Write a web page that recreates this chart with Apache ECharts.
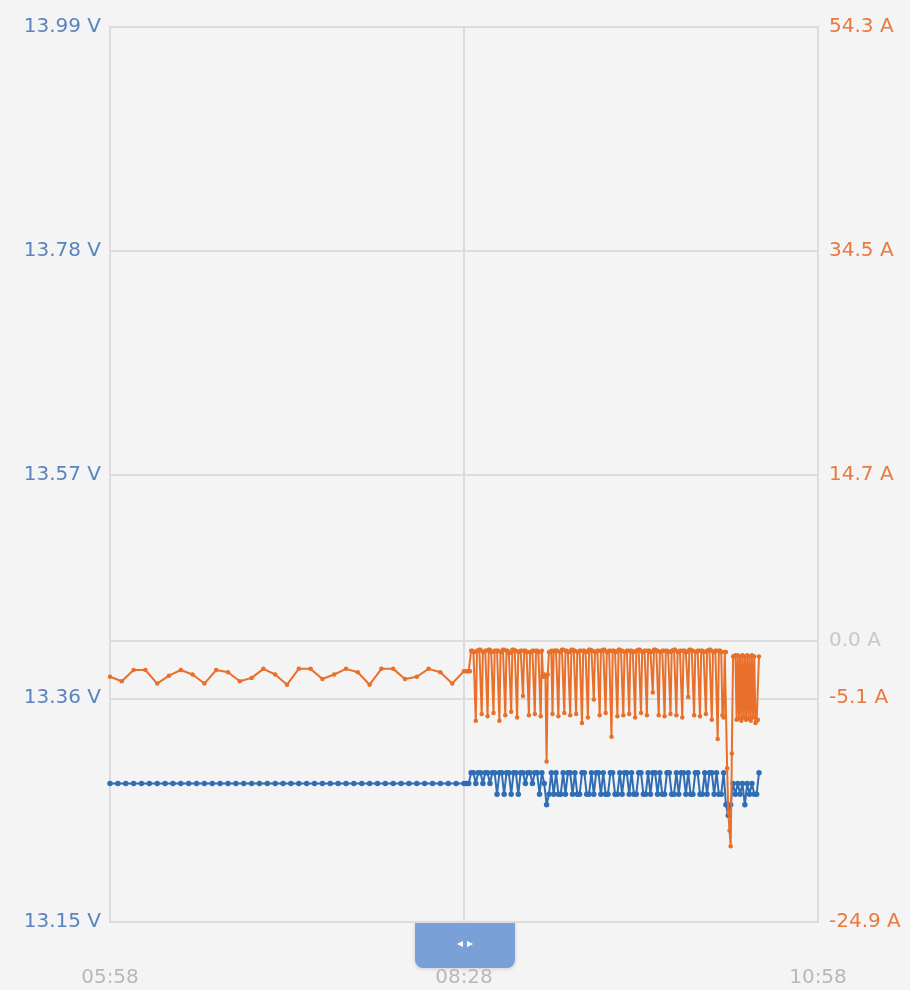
<!DOCTYPE html>
<html><head><meta charset="utf-8">
<script src="https://cdn.jsdelivr.net/npm/echarts@6/dist/echarts.min.js"></script>
<style>html,body{margin:0;padding:0;background:#f4f4f4;}#c{width:910px;height:990px;}</style>
</head><body><div id="c"></div>
<script>
// ---- data ----
const timeTicks = ['05:58', '08:28', '10:58'];
const voltageTicks = [13.15, 13.36, 13.57, 13.78, 13.99];
const currentTicks = [-24.9, -5.1, 0.0, 14.7, 34.5, 54.3];

// voltage, 05:58 .. 08:28 (every 200 s)
const voltagePreStart = '05:58';
const voltagePreStepMin = 10 / 3;
const voltagePre = [
  13.28,13.28,13.28,13.28,13.28,13.28,13.28,13.28,13.28,13.28,
  13.28,13.28,13.28,13.28,13.28,13.28,13.28,13.28,13.28,13.28,
  13.28,13.28,13.28,13.28,13.28,13.28,13.28,13.28,13.28,13.28,
  13.28,13.28,13.28,13.28,13.28,13.28,13.28,13.28,13.28,13.28,
  13.28,13.28,13.28,13.28,13.28,13.28
];
// voltage, 08:29 .. 10:33 (every minute)
const voltagePostStart = '08:29';
const voltagePostStepMin = 1;
const voltagePost = [
  13.28,13.28,
  13.29,13.29,13.28, 13.29,13.29,13.28, 13.29,13.29,13.28, 13.29,13.29,13.27,
  13.29,13.29,13.27, 13.29,13.29,13.27, 13.29,13.29,13.27, 13.29,13.29,13.28,
  13.29,13.29,13.28, 13.29,13.29,13.27, 13.29,13.28,13.26, 13.27,13.29,13.27,
  13.29,13.27,13.27,13.29,13.27,13.29,13.29,13.27,13.29,13.27,13.27,13.29,
  13.29,13.27,13.27,13.29,13.27,13.29,13.29,13.27,13.29,13.27,13.27,13.29,
  13.29,13.27,13.27,13.29,13.27,13.29,13.29,13.27,13.29,13.27,13.27,13.29,
  13.29,13.27,13.27,13.29,13.27,13.29,13.29,13.27,13.29,13.27,13.27,13.29,
  13.29,13.27,13.27,13.29,13.27,13.29,13.29,13.27,13.29,13.27,13.27,13.29,
  13.29,13.27,13.27,13.29,13.27,13.29,13.29,13.27,13.29,13.27,13.27,13.29,
  13.26,13.25,13.26,13.28,
  13.27,13.28,13.27,13.28,13.26,13.28,13.27,13.28,13.27,13.27,13.29
];
// current, 05:58 .. 08:28 (every 5 min)
const currentPreStart = '05:58';
const currentPreStepMin = 5;
const currentPre = [
  -3.2,-3.6,-2.6,-2.6,-3.8,-3.1,-2.6,-3.0,-3.8,-2.6,
  -2.8,-3.6,-3.3,-2.5,-3.0,-3.9,-2.5,-2.5,-3.4,-3.0,
  -2.5,-2.8,-3.9,-2.5,-2.5,-3.4,-3.2,-2.5,-2.8,-3.8,-2.7
];
// current, 08:29 .. 10:33 (every 30 s)
const currentPostStart = '08:29';
const currentPostStepMin = 0.5;
const currentPost = [
  -2.7,-2.7,-2.7,-2.7,
  -0.9,-0.9,-1.0,-1.0,-7.1,  -0.9,-0.9,-0.8,-0.8,-6.5,  -1.0,-1.0,-0.9,-0.9,-6.7,
  -0.8,-0.8,-1.0,-1.0,-6.4,  -0.9,-0.9,-0.9,-0.9,-7.1,  -1.0,-1.0,-0.8,-0.8,-6.6,
  -0.9,-0.9,-1.1,-1.1,-6.3,  -0.8,-0.8,-0.9,-0.9,-6.8,  -1.0,-1.0,-0.9,-0.9,-4.9,
  -0.9,-0.9,-1.0,-1.0,-6.6,  -1.0,-1.0,-0.9,-0.9,-6.5,  -0.9,-0.9,-1.0,-1.0,-6.7,
  -0.9,-3.2,-3.0,-3.2,-10.7, -3.0,-1.0,-1.0,-0.9,-6.5,  -0.9,-0.9,-0.9,-0.9,-6.7,
  -1.0,-1.0,-0.8,-0.8,-6.4,  -0.9,-0.9,-1.0,-1.0,-6.6,  -0.8,-0.8,-0.9,-0.9,-6.5,
  -1.0,-1.0,-0.9,-0.9,-7.3,  -0.9,-0.9,-1.0,-1.0,-6.8,  -0.8,-0.8,-0.9,-0.9,-5.2,
  -1.0,-1.0,-0.9,-0.9,-6.6,  -0.9,-0.9,-0.8,-0.8,-6.4,  -1.0,-1.0,-0.9,-0.9,-8.5,
  -0.9,-0.9,-1.0,-1.0,-6.7,  -0.8,-0.8,-0.9,-0.9,-6.6,  -1.0,-1.0,-0.9,-0.9,-6.5,
  -0.9,-0.9,-1.0,-1.0,-6.8,  -0.9,-0.9,-0.8,-0.8,-6.4,  -1.0,-1.0,-0.9,-0.9,-6.6,
  -0.9,-0.9,-1.0,-1.0,-4.6,  -0.8,-0.8,-0.9,-0.9,-6.6,  -1.0,-1.0,-0.9,-0.9,-6.7,
  -0.9,-0.9,-1.0,-1.0,-6.5,  -0.9,-0.9,-0.8,-0.8,-6.6,  -1.0,-1.0,-0.9,-0.9,-6.8,
  -0.9,-0.9,-1.0,-1.0,-5.0,  -0.8,-0.8,-0.9,-0.9,-6.6,  -1.0,-1.0,-0.9,-0.9,-6.7,
  -0.9,-0.9,-1.0,-1.0,-6.5,  -0.9,-0.9,-0.8,-0.8,-7.0,  -1.0,-1.0,-0.9,-0.9,-8.7,
  -0.9,-0.9,-1.0,-6.6,-6.8,  -1.0,
  -1.0,-11.3,-15.2,-16.8,-18.2,-10.0,-1.4,-1.4,
  -1.3,-7.0,-1.3,-6.9,-1.4,-7.1,-1.3,-6.8,-1.4,-7.0,-1.3,
  -6.9,-1.4,-7.1,-1.3,-6.8,-1.4,-7.3,-7.1,-7.0,-1.4
];

// ---- helpers ----
function toMin(s) { const p = s.split(':'); return (+p[0]) * 60 + (+p[1]); }
function fmtMin(m) {
  const h = Math.floor(m / 60), mm = Math.round(m - h * 60);
  return String(h).padStart(2, '0') + ':' + String(mm).padStart(2, '0');
}
function series(start, step, vals) {
  const s = toMin(start);
  return vals.map((v, i) => [s + i * step, v]);
}
const tickMins = timeTicks.map(toMin);
const voltageData = series(voltagePreStart, voltagePreStepMin, voltagePre)
  .concat(series(voltagePostStart, voltagePostStepMin, voltagePost));
const currentData = series(currentPreStart, currentPreStepMin, currentPre)
  .concat(series(currentPostStart, currentPostStepMin, currentPost));

const BLUE = '#2f6db5', ORANGE = '#e8702a', GRID = '#dcdcdc';
const FONT = 'DejaVu Sans';
const chart = echarts.init(document.getElementById('c'), null, {renderer: 'canvas'});
chart.setOption({
  backgroundColor: '#f4f4f4',
  animation: false,
  grid: {left: 110, right: 92, top: 27, bottom: 68},
  xAxis: {
    type: 'value', min: tickMins[0], max: tickMins[tickMins.length - 1],
    axisLine: {show: false},
    axisTick: {show: false, customValues: tickMins},
    axisLabel: {customValues: tickMins, formatter: v => fmtMin(v), color: '#b8b8b8',
      fontSize: 20, fontFamily: FONT, margin: 46},
    splitLine: {show: true, lineStyle: {color: GRID, width: 2}}
  },
  yAxis: [{
    type: 'value', min: voltageTicks[0], max: voltageTicks[voltageTicks.length - 1],
    position: 'left',
    axisLine: {show: true, lineStyle: {color: GRID, width: 2}},
    axisTick: {show: false, customValues: voltageTicks},
    axisLabel: {customValues: voltageTicks, formatter: v => v.toFixed(2) + ' V',
      color: '#5a84bf', fontSize: 20, fontFamily: FONT, margin: 9},
    splitLine: {show: true, lineStyle: {color: GRID, width: 2}}
  }, {
    type: 'value', min: currentTicks[0], max: currentTicks[currentTicks.length - 1],
    position: 'right',
    axisLine: {show: true, lineStyle: {color: GRID, width: 2}},
    axisTick: {show: false, customValues: currentTicks},
    axisLabel: {customValues: currentTicks, formatter: v => v.toFixed(1) + ' A',
      color: v => (Math.abs(v) < 1e-9 ? '#c8c8c8' : '#e8793f'),
      fontSize: 20, fontFamily: FONT, margin: 11},
    splitLine: {show: true, lineStyle: {color: GRID, width: 2}}
  }],
  series: [{
    name: 'Voltage', type: 'line', yAxisIndex: 0, data: voltageData,
    symbol: 'circle', symbolSize: 5.5, showSymbol: true,
    lineStyle: {color: BLUE, width: 2}, itemStyle: {color: BLUE}, z: 2
  }, {
    name: 'Current', type: 'line', yAxisIndex: 1, data: currentData,
    symbol: 'circle', symbolSize: 4.5, showSymbol: true,
    lineStyle: {color: ORANGE, width: 2}, itemStyle: {color: ORANGE}, z: 3
  }],
  graphic: [{
    type: 'group', left: 415, top: 922, z: 100,
    children: [{
      type: 'rect', shape: {x: 0, y: 0, width: 100, height: 46, r: [0, 0, 8, 8]},
      style: {fill: '#7aa0d8', shadowBlur: 4, shadowColor: 'rgba(0,0,0,0.15)', shadowOffsetY: 1}
    }, {
      type: 'text', x: 50, y: 22,
      style: {text: '◂ ▸', fill: '#ffffff', fontSize: 12, align: 'center', verticalAlign: 'middle'}
    }]
  }]
});
</script>
</body></html>
